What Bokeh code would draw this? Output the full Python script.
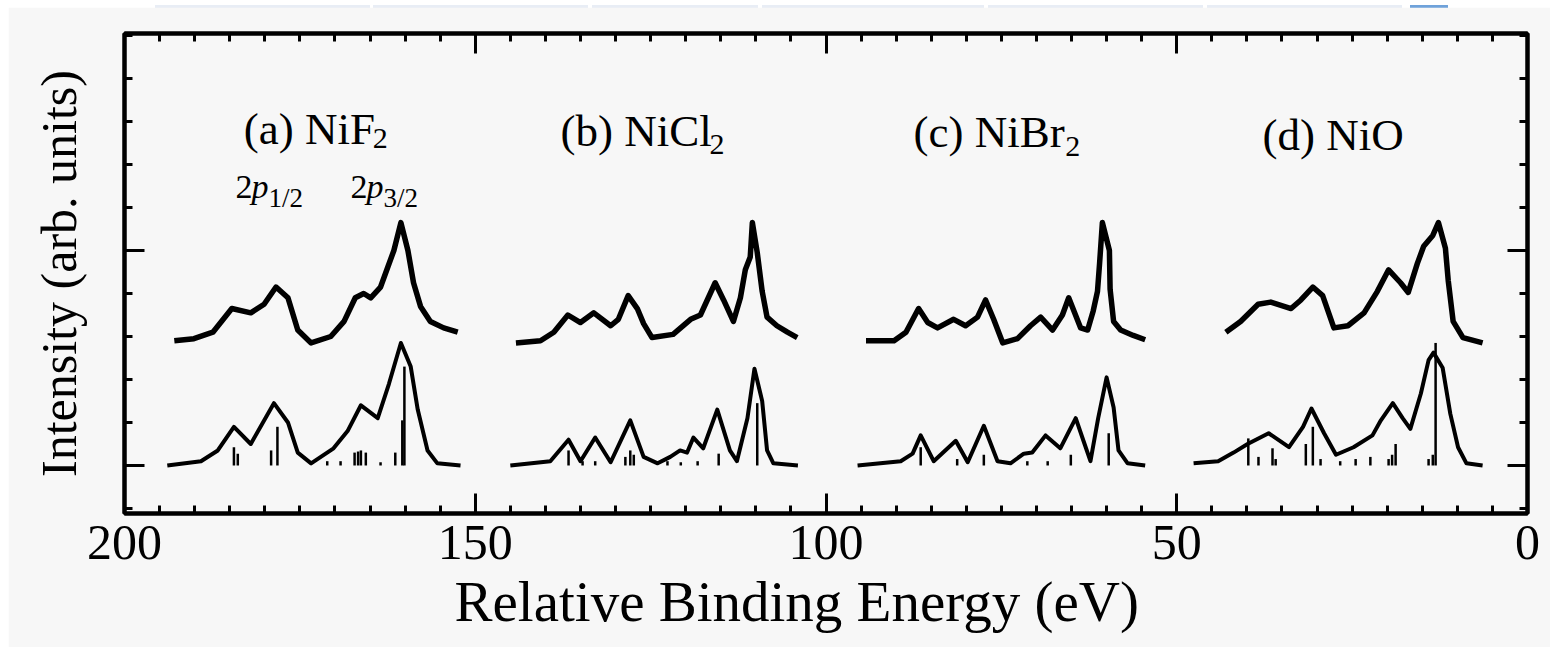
import math
from bokeh.plotting import figure
from bokeh.models import Range1d, FixedTicker, LinearAxis, Label, CustomJSTickFormatter, Div, Title
from bokeh.layouts import column
from bokeh.embed import file_html
from bokeh.resources import INLINE

# ---------------- data ----------------
x_ticks = [200, 150, 100, 50, 0]
x_minor = list(range(0, 201, 5))
y_ticks = [0, 1]
y_minor = [-0.2, 0.0, 0.2, 0.4, 0.6, 0.8, 1.0, 1.2, 1.4, 1.6, 1.8, 2.0]

# (a) NiF2
nif2_exp_x = [192.9, 190.1, 187.4, 184.7, 182.0, 180.1, 178.4, 176.7, 175.3, 173.4, 170.6, 168.7, 167.1, 165.9, 164.9, 163.5, 162.5, 161.6, 160.6, 159.6, 158.8, 157.8, 156.4, 154.5, 152.5]
nif2_exp_y = [0.58, 0.59, 0.62, 0.73, 0.71, 0.75, 0.83, 0.78, 0.63, 0.57, 0.60, 0.67, 0.78, 0.80, 0.78, 0.83, 0.92, 1.00, 1.13, 1.00, 0.85, 0.74, 0.67, 0.64, 0.62]
nif2_th_x = [193.9, 189.1, 186.7, 184.4, 182.0, 178.7, 176.7, 175.3, 173.4, 170.2, 168.2, 166.3, 163.9, 162.3, 160.6, 159.2, 158.2, 156.8, 155.4, 152.1]
nif2_th_y = [0.0, 0.02, 0.07, 0.18, 0.10, 0.29, 0.20, 0.06, 0.01, 0.08, 0.16, 0.28, 0.22, 0.38, 0.57, 0.46, 0.26, 0.07, 0.01, 0.0]
nif2_stick_x = [184.4, 183.85, 179.1, 178.2, 171.1, 169.2, 167.2, 166.7, 166.3, 165.6, 163.5, 161.4, 160.4, 160.1]
nif2_stick_h = [0.085, 0.055, 0.07, 0.18, 0.02, 0.02, 0.06, 0.065, 0.07, 0.06, 0.015, 0.06, 0.21, 0.46]

# (b) NiCl2
nicl2_exp_x = [144.2, 140.7, 138.8, 136.8, 135.0, 133.1, 130.7, 129.6, 128.2, 126.9, 126.0, 124.8, 121.8, 119.3, 117.9, 115.8, 114.6, 113.2, 112.2, 111.5, 110.8, 110.5, 109.8, 109.1, 108.4, 107.0, 105.5, 104.1]
nicl2_exp_y = [0.57, 0.58, 0.62, 0.70, 0.665, 0.71, 0.65, 0.68, 0.79, 0.73, 0.66, 0.595, 0.61, 0.68, 0.70, 0.85, 0.77, 0.67, 0.78, 0.91, 0.97, 1.13, 0.99, 0.81, 0.69, 0.65, 0.62, 0.595]
nicl2_th_x = [145.0, 139.3, 136.7, 135.0, 132.9, 130.7, 127.9, 126.0, 124.0, 122.2, 120.8, 119.8, 118.9, 117.5, 115.5, 113.7, 112.7, 111.2, 110.2, 109.1, 108.4, 107.5, 104.0]
nicl2_th_y = [0.0, 0.02, 0.12, 0.02, 0.13, 0.015, 0.21, 0.04, 0.01, 0.04, 0.07, 0.06, 0.13, 0.08, 0.26, 0.07, 0.02, 0.22, 0.45, 0.30, 0.07, 0.01, 0.0]
nicl2_stick_x = [136.7, 134.7, 132.9, 128.6, 127.9, 127.4, 122.6, 120.7, 118.3, 115.3, 109.8]
nicl2_stick_h = [0.07, 0.02, 0.02, 0.04, 0.07, 0.05, 0.02, 0.015, 0.02, 0.055, 0.29]

# (c) NiBr2
nibr2_exp_x = [94.3, 90.3, 88.6, 86.8, 85.5, 84.1, 81.8, 80.1, 78.4, 77.25, 76.1, 74.8, 72.7, 70.85, 69.4, 67.7, 66.3, 65.4, 63.7, 62.7, 61.9, 61.3, 61.0, 60.6, 59.6, 59.5, 59.0, 58.0, 56.2, 54.5]
nibr2_exp_y = [0.58, 0.58, 0.62, 0.73, 0.665, 0.64, 0.68, 0.65, 0.69, 0.77, 0.68, 0.57, 0.59, 0.65, 0.69, 0.63, 0.70, 0.78, 0.64, 0.63, 0.72, 0.81, 0.94, 1.13, 1.00, 0.82, 0.67, 0.63, 0.605, 0.585]
nibr2_th_x = [95.5, 89.35, 87.65, 86.5, 84.65, 81.5, 79.8, 77.5, 75.55, 73.7, 71.8, 70.6, 68.7, 66.6, 64.4, 63.3, 62.3, 61.2, 60.0, 59.0, 58.3, 57.0, 54.5]
nibr2_th_y = [0.0, 0.02, 0.055, 0.14, 0.02, 0.115, 0.015, 0.185, 0.02, 0.01, 0.055, 0.06, 0.14, 0.08, 0.22, 0.115, 0.02, 0.22, 0.41, 0.27, 0.07, 0.01, 0.0]
nibr2_stick_x = [86.5, 81.3, 77.5, 71.3, 68.4, 65.1, 59.7]
nibr2_stick_h = [0.085, 0.03, 0.05, 0.02, 0.02, 0.05, 0.15]

# (d) NiO
nio_exp_x = [43.0, 40.9, 38.4, 36.6, 33.7, 32.3, 30.6, 29.2, 27.6, 25.6, 23.3, 21.4, 19.8, 18.1, 17.0, 15.7, 14.8, 13.5, 12.7, 11.7, 11.3, 10.6, 9.2, 6.4]
nio_exp_y = [0.62, 0.67, 0.75, 0.76, 0.73, 0.77, 0.83, 0.79, 0.64, 0.65, 0.71, 0.81, 0.91, 0.85, 0.805, 0.94, 1.02, 1.07, 1.13, 1.01, 0.86, 0.67, 0.595, 0.57]
nio_th_x = [47.6, 44.1, 41.9, 39.9, 36.9, 34.0, 32.0, 30.8, 29.0, 27.3, 24.8, 22.1, 20.9, 19.2, 17.8, 16.7, 15.2, 14.1, 13.4, 12.1, 11.0, 9.9, 8.7, 6.4]
nio_th_y = [0.01, 0.02, 0.06, 0.10, 0.15, 0.085, 0.18, 0.265, 0.15, 0.05, 0.085, 0.14, 0.21, 0.29, 0.22, 0.17, 0.335, 0.49, 0.525, 0.455, 0.24, 0.085, 0.01, 0.0]
nio_stick_x = [39.8, 38.35, 36.35, 35.9, 31.6, 30.6, 29.5, 26.7, 24.5, 22.4, 19.8, 19.3, 18.8, 14.1, 13.5, 13.1]
nio_stick_h = [0.126, 0.04, 0.08, 0.03, 0.1, 0.18, 0.03, 0.02, 0.03, 0.04, 0.03, 0.05, 0.1, 0.03, 0.05, 0.57]

panel_titles = ["(a) NiF", "(b) NiCl", "(c) NiBr", "(d) NiO"]
panel_subs = ["2", "2", "2", ""]
x_label = "Relative Binding Energy (eV)"
y_label = "Intensity (arb. units)"

# ---------------- figure ----------------
BG = "#f7f7f7"
SERIF = "Liberation Serif"

p = figure(width=1542, height=640, x_range=Range1d(200, 0), y_range=Range1d(-0.2233, 2.0093),
           output_backend="svg", toolbar_location=None,
           min_border_left=116, min_border_right=23, min_border_top=26, min_border_bottom=134,
           background_fill_color=BG, border_fill_color=BG, margin=(0, 0, 2, 8))
p.grid.visible = False
p.outline_line_color = "black"
p.outline_line_width = 4

empty_fmt = CustomJSTickFormatter(code="return ''")


def style_axis(ax, ticker, labels):
    ax.ticker = ticker
    ax.axis_line_width = 4
    ax.axis_line_color = "black"
    ax.major_tick_in = 20
    ax.major_tick_out = 0
    ax.minor_tick_in = 8
    ax.minor_tick_out = 0
    ax.major_tick_line_width = 3
    ax.minor_tick_line_width = 3
    if labels:
        ax.major_label_text_font = SERIF
        ax.major_label_text_font_size = "50px"
        ax.major_label_text_color = "black"
        ax.major_label_standoff = 12
    else:
        ax.formatter = empty_fmt
        ax.major_label_text_color = None


xt = FixedTicker(ticks=x_ticks, minor_ticks=x_minor)
yt = FixedTicker(ticks=y_ticks, minor_ticks=y_minor)
style_axis(p.xaxis[0], xt, True)
style_axis(p.yaxis[0], yt, False)
top_ax = LinearAxis()
style_axis(top_ax, FixedTicker(ticks=x_ticks, minor_ticks=x_minor), False)
p.add_layout(top_ax, "above")
right_ax = LinearAxis()
style_axis(right_ax, FixedTicker(ticks=y_ticks, minor_ticks=y_minor), False)
p.add_layout(right_ax, "right")

# y-axis label
p.yaxis[0].axis_label = y_label
p.yaxis[0].axis_label_text_font = SERIF
p.yaxis[0].axis_label_text_font_size = "50px"
p.yaxis[0].axis_label_text_font_style = "normal"
p.yaxis[0].axis_label_text_color = "black"
p.yaxis[0].axis_label_standoff = 38

# x-axis label as a title below the axis (offset to the left like the original)
xt_title = Title(text=x_label, align="left", offset=330, text_font=SERIF, text_font_size="57px",
                 text_font_style="normal", text_color="black", standoff=12)
p.add_layout(xt_title, "below")

panels = [
    (nif2_exp_x, nif2_exp_y, nif2_th_x, nif2_th_y, nif2_stick_x, nif2_stick_h),
    (nicl2_exp_x, nicl2_exp_y, nicl2_th_x, nicl2_th_y, nicl2_stick_x, nicl2_stick_h),
    (nibr2_exp_x, nibr2_exp_y, nibr2_th_x, nibr2_th_y, nibr2_stick_x, nibr2_stick_h),
    (nio_exp_x, nio_exp_y, nio_th_x, nio_th_y, nio_stick_x, nio_stick_h),
]
for ex, ey, tx, ty, sx, sh in panels:
    p.segment(x0=sx, y0=[0] * len(sx), x1=sx, y1=sh, line_color="black", line_width=2.5)
    p.line(tx, ty, line_color="black", line_width=4, line_join="round")
    p.line(ex, ey, line_color="black", line_width=5.5, line_join="round")

# ---------------- texts (y = vertical centre of the em box) ----------------
title_pos = [(183.0, 1.565, 164.6, 1.519), (137.85, 1.556, 116.6, 1.495),
             (87.53, 1.551, 65.9, 1.486), (37.78, 1.537, None, None)]
for (tx_, ty_, sx_, sy_), t, s in zip(title_pos, panel_titles, panel_subs):
    p.add_layout(Label(x=tx_, y=ty_, text=t, text_font=SERIF, text_font_size="45px",
                       text_color="black", text_align="left", text_baseline="middle"))
    if s:
        p.add_layout(Label(x=sx_, y=sy_, text=s, text_font=SERIF, text_font_size="30px",
                           text_color="black", text_align="left", text_baseline="middle"))

# 2p labels
for x2, xp, xs, frac in [(184.18, 181.9, 179.47, "1/2"), (167.78, 165.5, 163.08, "3/2")]:
    p.add_layout(Label(x=x2, y=1.296, text="2", text_font=SERIF, text_font_size="34px",
                       text_color="black", text_align="left", text_baseline="middle"))
    p.add_layout(Label(x=xp, y=1.296, text="p", text_font=SERIF, text_font_size="34px",
                       text_color="black", text_font_style="italic", text_align="left",
                       text_baseline="middle"))
    p.add_layout(Label(x=xs, y=1.243, text=frac, text_font=SERIF, text_font_size="27px",
                       text_color="black", text_align="left", text_baseline="middle"))

# ---------------- top strip ----------------
strip_boxes = [(155, 370), (373, 588), (592, 758), (762, 984), (988, 1203), (1207, 1402)]
html = '<div style="position:relative;width:1550px;height:7px;background:#ffffff;">'
for a, b in strip_boxes:
    html += (f'<div style="position:absolute;left:{a}px;top:0px;width:{b - a}px;height:6px;'
             f'background:#e8edf5;"></div>')
html += '<div style="position:absolute;left:1410px;top:0px;width:38px;height:4px;background:#6fa2da;"></div>'
html += '</div>'
strip = Div(text=html, width=1550, height=7, margin=0)

layout = column(strip, p, spacing=0)
open("out.html", "w").write(file_html(layout, INLINE))
